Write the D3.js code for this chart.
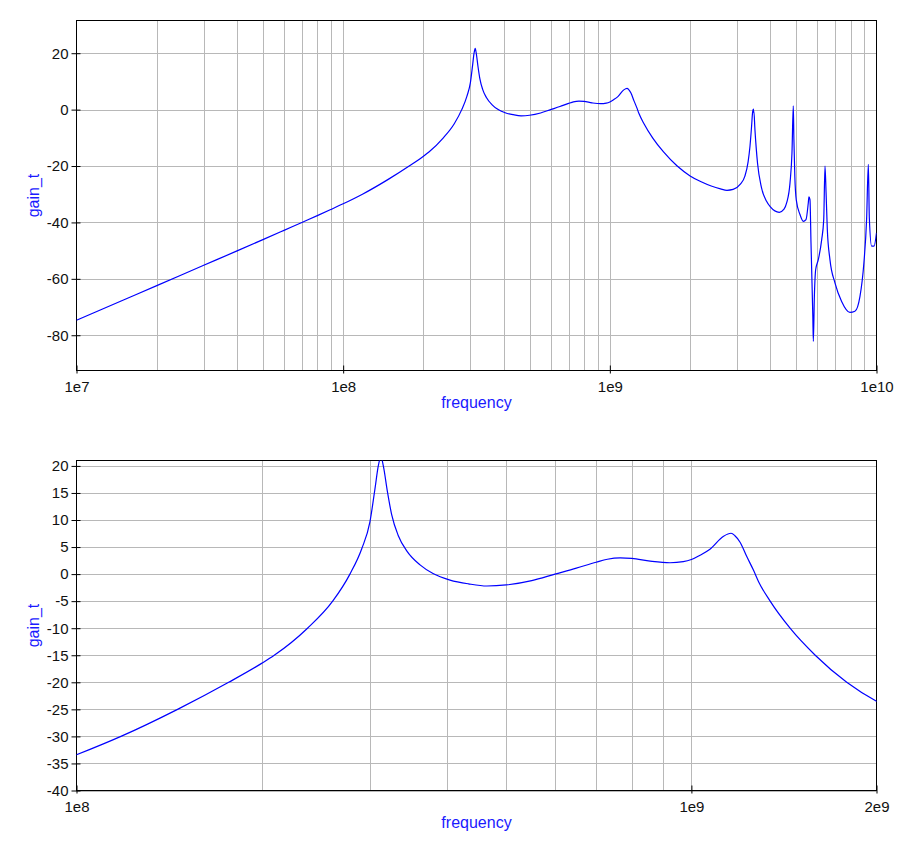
<!DOCTYPE html>
<html lang="en">
<head>
<meta charset="UTF-8">
<title>gain_t vs frequency</title>
<script src="https://d3js.org/d3.v7.min.js"></script>
<style>
    body { margin: 0; background: #fff; }
    svg text { font-family: "Liberation Sans", Arial, sans-serif; }
</style>
</head>
<body>
<script>
    // values (Hz, dB)
    const frequency = [
        1e7, 1.5e7, 2e7, 3e7, 4e7, 5e7, 6e7, 7e7, 8e7, 9e7,
        1e8, 1.181e8, 1.46e8, 1.768e8, 2.0e8, 2.097e8, 2.375e8, 2.61e8, 2.784e8, 2.91e8,
        3.0e8, 3.058e8, 3.096e8, 3.127e8, 3.155e8, 3.203e8, 3.255e8, 3.337e8, 3.444e8, 3.62e8,
        3.80e8, 4.05e8, 4.34e8, 4.65e8, 5.0e8, 5.5e8, 6.0e8, 6.5e8, 7.0e8, 7.3e8,
        7.66e8, 8.0e8, 8.57e8, 9.23e8, 9.7e8, 1.0e9, 1.033e9, 1.072e9, 1.128e9, 1.16e9,
        1.177e9, 1.20e9, 1.231e9, 1.262e9, 1.286e9, 1.343e9, 1.447e9, 1.59e9, 1.789e9, 2.0e9,
        2.2e9, 2.4e9, 2.6e9, 2.75e9, 2.9e9, 3.08e9, 3.21e9, 3.30e9, 3.354e9, 3.40e9,
        3.43e9, 3.455e9, 3.462e9, 3.468e9, 3.50e9, 3.58e9, 3.70e9, 3.87e9, 4.0e9, 4.32e9,
        4.5e9, 4.605e9, 4.74e9, 4.82e9, 4.875e9, 4.90e9, 4.94e9, 5.0e9, 5.165e9, 5.314e9,
        5.44e9, 5.55e9, 5.58e9, 5.63e9, 5.68e9, 5.73e9, 5.77e9, 5.797e9, 5.848e9, 5.916e9,
        6.05e9, 6.23e9, 6.34e9, 6.41e9, 6.47e9, 6.54e9, 6.69e9, 6.99e9, 7.40e9, 7.95e9,
        8.30e9, 8.67e9, 8.97e9, 9.18e9, 9.32e9, 9.40e9, 9.59e9, 9.79e9, 1e10
    ];
    const gainT = [
        -74.7, -67.5, -62.4, -55.2, -50.1, -46.1, -42.8, -40.0, -37.6, -35.4,
        -33.4, -30.0, -25.0, -20.0, -16.5, -15.0, -10.0, -5.0, 0.0, 4.7,
        9.6, 15.8, 20.0, 21.7, 20.0, 15.3, 11.0, 7.1, 4.3, 1.7,
        0.1, -1.1, -1.8, -2.2, -2.0, -1.2, 0.0, 1.1, 2.2, 2.75,
        3.0, 2.9, 2.4, 2.1, 2.3, 2.7, 3.5, 4.6, 7.0, 7.55,
        7.1, 5.9, 3.2, 0.7, -1.4, -5.0, -10.0, -15.0, -20.0, -23.5,
        -25.6, -27.1, -28.1, -28.6, -28.3, -26.5, -23.6, -18.5, -13.0, -6.0,
        -1.0, 0.2, -1.0, -0.5, -7.0, -19.0, -27.5, -32.5, -34.5, -36.4,
        -35.3, -33.0, -25.9, -15.3, 1.3, -10.5, -23.6, -31.9, -37.2, -39.6,
        -39.0, -33.0, -30.9, -31.9, -47.2, -61.5, -73.3, -82.2, -66.2, -56.7,
        -53.2, -46.1, -39.0, -20.0, -29.5, -42.5, -53.2, -61.5, -68.0, -71.9,
        -71.5, -66.2, -54.3, -39.0, -19.4, -38.4, -48.4, -48.4, -43.7
    ];

    const topFreqTicks = [1e7, 1e8, 1e9, 1e10];
    const topFreqLabels = ["1e7", "1e8", "1e9", "1e10"];
    const topGainTicks = [-80, -60, -40, -20, 0, 20];

    const bottomFreqTicks = [1e8, 1e9, 2e9];
    const bottomFreqLabels = ["1e8", "1e9", "2e9"];
    const bottomGainTicks = [-40, -35, -30, -25, -20, -15, -10, -5, 0, 5, 10, 15, 20];

    const xTitle = "frequency";
    const yTitle = "gain_t";

    const data = frequency.map((f, i) => ({freq: f, gain: gainT[i]}));

    const $svg = d3.select("body").append("svg")
        .attr("width", 903)
        .attr("height", 868);

    class GainChart {
        constructor(opts) {
            this.id = opts.id;
            this.left = 76.5;
            this.right = 876.5;
            this.top = opts.top;
            this.bottom = opts.bottom;
            this.xDomain = opts.xDomain;
            this.yDomain = opts.yDomain;
            this.xTicks = opts.xTicks;
            this.xLabels = opts.xLabels;
            this.yTicks = opts.yTicks;
            this.$g = $svg.append("g");
        }

        plot() {
            this.x = d3.scaleLog()
                .domain(this.xDomain)
                .range([this.left, this.right]);

            this.y = d3.scaleLinear()
                .domain(this.yDomain)
                .range([this.bottom, this.top]);

            this.plotGrid();
            this.plotAxis();
            this.plotGraph();
        }

        plotGrid() {
            let self = this;
            // minor log grid: 1..9 times every decade inside the domain
            let vLines = [];
            let d0 = Math.floor(Math.log10(this.xDomain[0]));
            let d1 = Math.ceil(Math.log10(this.xDomain[1]));
            for (let d = d0; d <= d1; d++) {
                for (let m = 1; m <= 9; m++) {
                    let v = m * Math.pow(10, d);
                    if (v > this.xDomain[0] * 1.0001 && v < this.xDomain[1] * 0.9999) vLines.push(v);
                }
            }

            this.$g.append("g").selectAll("line")
                .data(vLines)
                .enter().append("line")
                .attr("x1", d => Math.round(self.x(d)) + 0.5)
                .attr("x2", d => Math.round(self.x(d)) + 0.5)
                .attr("y1", this.top)
                .attr("y2", this.bottom)
                .attr("stroke", "#b8b8b8")
                .attr("stroke-width", 1);

            this.$g.append("g").selectAll("line")
                .data(this.yTicks)
                .enter().append("line")
                .attr("x1", this.left)
                .attr("x2", this.right)
                .attr("y1", d => Math.round(self.y(d)) + 0.5)
                .attr("y2", d => Math.round(self.y(d)) + 0.5)
                .attr("stroke", "#b8b8b8")
                .attr("stroke-width", 1);
        }

        plotAxis() {
            let self = this;

            let xAxis = d3.axisBottom(this.x)
                .tickValues(this.xTicks)
                .tickFormat((d, i) => self.xLabels[i])
                .tickSize(3)
                .tickPadding(8);

            let $x = this.$g.append("g")
                .attr("transform", `translate(0,${this.bottom})`)
                .call(xAxis);
            $x.select(".domain").remove();
            $x.selectAll(".tick line").attr("y1", -5);
            $x.selectAll(".tick text")
                .attr("font-size", 15)
                .attr("fill", "#111");

            let yAxis = d3.axisLeft(this.y)
                .tickValues(this.yTicks)
                .tickFormat(d => String(d))
                .tickSize(5)
                .tickPadding(3);

            let $y = this.$g.append("g")
                .attr("transform", `translate(${this.left},0)`)
                .call(yAxis);
            $y.select(".domain").remove();
            $y.selectAll(".tick line").attr("x1", 4);
            $y.selectAll(".tick text")
                .attr("font-size", 15)
                .attr("fill", "#111");

            // frame
            this.$g.append("rect")
                .attr("x", this.left)
                .attr("y", this.top)
                .attr("width", this.right - this.left)
                .attr("height", this.bottom - this.top)
                .attr("fill", "none")
                .attr("stroke", "#000")
                .attr("stroke-width", 1);

            this.$g.append("text")
                .attr("x", (this.left + this.right) / 2)
                .attr("y", this.bottom + 37)
                .attr("text-anchor", "middle")
                .attr("font-size", 16)
                .attr("fill", "#1a1aff")
                .text(xTitle);

            this.$g.append("text")
                .attr("transform", `translate(39,${(this.top + this.bottom) / 2}) rotate(-90)`)
                .attr("text-anchor", "middle")
                .attr("font-size", 16)
                .attr("fill", "#1a1aff")
                .text(yTitle);
        }

        plotGraph() {
            let self = this;

            this.$g.append("clipPath")
                .attr("id", this.id)
                .append("rect")
                .attr("x", this.left)
                .attr("y", this.top)
                .attr("width", this.right - this.left)
                .attr("height", this.bottom - this.top);

            let line = d3.line()
                .curve(d3.curveMonotoneX)
                .x(d => self.x(d.freq))
                .y(d => self.y(d.gain));

            this.$g.append("path")
                .datum(data)
                .attr("clip-path", `url(#${this.id})`)
                .attr("fill", "none")
                .attr("stroke", "#0000ff")
                .attr("stroke-width", 1.2)
                .attr("d", line);
        }
    }

    let topChart = new GainChart({
        id: "clipTop",
        top: 20.5,
        bottom: 370.5,
        xDomain: [1e7, 1e10],
        yDomain: [-92.5, 31.6],
        xTicks: topFreqTicks,
        xLabels: topFreqLabels,
        yTicks: topGainTicks
    });
    topChart.plot();

    let bottomChart = new GainChart({
        id: "clipBottom",
        top: 460.5,
        bottom: 790.5,
        xDomain: [1e8, 2e9],
        yDomain: [-40, 21],
        xTicks: bottomFreqTicks,
        xLabels: bottomFreqLabels,
        yTicks: bottomGainTicks
    });
    bottomChart.plot();
</script>
</body>
</html>
